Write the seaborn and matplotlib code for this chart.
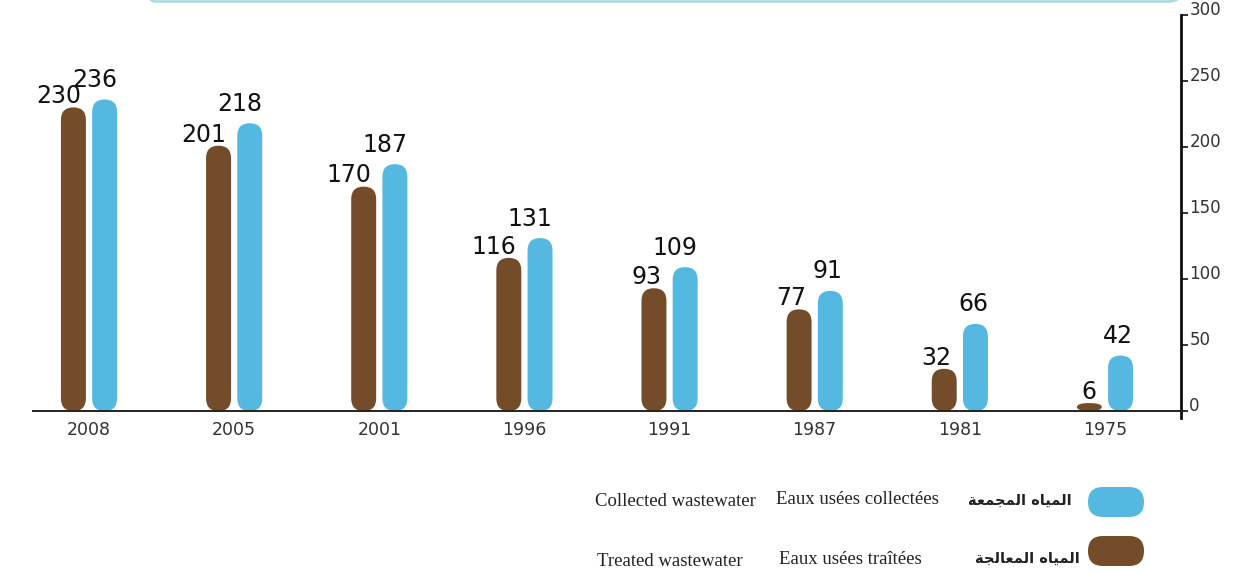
import matplotlib
matplotlib.use("Agg")
import matplotlib.pyplot as plt
from matplotlib.patches import FancyBboxPatch
import seaborn as sns
import pandas as pd

# Wastewater volumes by year
years = ["2008", "2005", "2001", "1996", "1991", "1987", "1981", "1975"]
treated = [230, 201, 170, 116, 93, 77, 32, 6]
collected = [236, 218, 187, 131, 109, 91, 66, 42]
series_names = ["Treated", "Collected"]
y_ticks = [0, 50, 100, 150, 200, 250, 300]

# Legend captions (English / French / Arabic)
en_collected, fr_collected = "Collected wastewater", "Eaux usées collectées"
en_treated, fr_treated = "Treated wastewater", "Eaux usées traîtées"
# Arabic written with presentation forms in visual order (matplotlib has no bidi shaping)
ar_words = {
    "al_miyah": "\ufe8d\ufedf\ufee4\ufef4\ufe8e\ufee9",
    "al_mujamaa": "\ufe8d\ufedf\ufee4\ufea0\ufee4\ufecc\ufe94",
    "al_muaalaja": "\ufe8d\ufedf\ufee4\ufecc\ufe8e\ufedf\ufea0\ufe94",
}
ar_collected = (ar_words["al_miyah"] + " " + ar_words["al_mujamaa"])[::-1]
ar_treated = (ar_words["al_miyah"] + " " + ar_words["al_muaalaja"])[::-1]

BROWN = "#744C29"
BLUE = "#54B8E0"

df = pd.DataFrame({
    "year": years * 2,
    "value": treated + collected,
    "series": [series_names[0]] * len(years) + [series_names[1]] * len(years),
})

sns.set_theme(style="white")
plt.rcParams["font.family"] = ["DejaVu Sans"]

W, H = 1233, 574
fig = plt.figure(figsize=(W / 100, H / 100), dpi=100)
ax = fig.add_axes([33 / W, (H - 417.6) / H, 1148 / W, (417.6 - 15) / H])

sns.barplot(data=df, x="year", y="value", hue="series", order=years,
            hue_order=series_names, palette=[BROWN, BLUE], saturation=1,
            width=0.43, gap=0.2, dodge=True, errorbar=None, legend=False, ax=ax)

xlim = (-0.386, 7.524)
ylim = (-5, 300)
ax.set_xlim(*xlim)
ax.set_ylim(*ylim)

# pixel scale of each axis, used to keep the capsule ends round
bbox = ax.get_window_extent()
px_x = bbox.width / (xlim[1] - xlim[0])
px_y = bbox.height / (ylim[1] - ylim[0])
aspect = px_x / px_y

# label placement per series: (vertical offset in points, horizontal anchor as bar fraction)
label_style = [(3, 0.8), (9, 1.0)]

for cont, vals, (off, frac) in zip(ax.containers, [treated, collected], label_style):
    for bar, v in zip(cont, vals):
        x0, w, h = bar.get_x(), bar.get_width(), bar.get_height()
        color = bar.get_facecolor()
        bar.set_visible(False)
        m = min(aspect, h / w)
        ax.add_patch(FancyBboxPatch((x0, 0), w, h,
                                    boxstyle=f"round,pad=0,rounding_size={w / 2}",
                                    mutation_aspect=m, fc=color, ec="none", zorder=2))
        ax.annotate(f"{v}", (x0 + w * frac, h), xytext=(0, off), textcoords="offset points",
                    ha="right", va="baseline", fontsize=17, color="#111111")

# spines: bottom at zero, right-hand value axis
for s in ["left", "top"]:
    ax.spines[s].set_visible(False)
ax.spines["bottom"].set_position(("data", 0))
ax.spines["bottom"].set_color("#222222")
ax.spines["bottom"].set_linewidth(1.4)
ax.spines["right"].set_color("#111111")
ax.spines["right"].set_linewidth(2)

ax.yaxis.tick_right()
ax.set_yticks(y_ticks, labels=[str(t) for t in y_ticks], va="baseline")
ax.tick_params(axis="y", direction="out", length=5, width=1.2, pad=1,
               labelsize=12, labelcolor="#333333", color="#111111")

ax.set_xticks(range(len(years)), labels=years)
ax.set_xticks([xlim[0]] + [k + 0.5 for k in range(len(years) - 1)], minor=True)
ax.tick_params(axis="x", which="major", length=0, pad=7, labelsize=12.5, labelcolor="#333333")
ax.tick_params(axis="x", which="minor", direction="out", length=5, width=1.8, color="#111111")
ax.set_xlabel("")
ax.set_ylabel("")
ax.grid(False)

T = fig.dpi_scale_trans


def px(x, y):
    return x / 100, (H - y) / 100


# frame edge along the top
fig.add_artist(FancyBboxPatch(px(140, 1.5), 10.43, 1.0,
                              boxstyle="round,pad=0,rounding_size=0.15",
                              transform=T, fill=False, ec="#a6dadb", lw=1.8))

# legend
serif = {"family": "Liberation Serif", "size": 13.5, "color": "#222222"}
arabic = {"family": "DejaVu Sans", "size": 10.5, "weight": "bold", "color": "#222222"}
fig.text(*px(595, 501), en_collected, transform=T, va="center", ha="left", **serif)
fig.text(*px(776, 500), fr_collected, transform=T, va="center", ha="left", **serif)
fig.text(*px(1072, 500), ar_collected, transform=T, va="center", ha="right", **arabic)
fig.add_artist(FancyBboxPatch(px(1088, 517), 0.56, 0.30,
                              boxstyle="round,pad=0,rounding_size=0.15",
                              transform=T, fc=BLUE, ec="none"))

fig.text(*px(597, 561), en_treated, transform=T, va="center", ha="left", **serif)
fig.text(*px(779, 560), fr_treated, transform=T, va="center", ha="left", **serif)
fig.text(*px(1080, 558), ar_treated, transform=T, va="center", ha="right", **arabic)
fig.add_artist(FancyBboxPatch(px(1088, 566), 0.56, 0.30,
                              boxstyle="round,pad=0,rounding_size=0.15",
                              transform=T, fc=BROWN, ec="none"))

fig.savefig("out.png", dpi=100)
